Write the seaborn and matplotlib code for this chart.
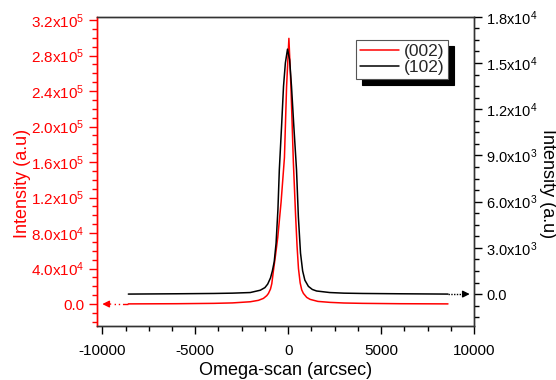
import numpy as np
import pandas as pd
import matplotlib
matplotlib.use("Agg")
import matplotlib.pyplot as plt
import seaborn as sns
from matplotlib.ticker import MultipleLocator, FixedLocator, FixedFormatter

# ---- data ----
x_002 = [-8600, -6000, -4000, -3000, -2040, -1600, -1330, -1150, -1060, -950, -880, -790,
         -680, -560, -380, -200, -85, 40, 150, 280, 400, 480, 555, 645, 730, 820,
         1000, 1180, 1600, 2260, 3000, 4000, 6000, 8600]
y_002 = [200, 400, 800, 1300, 2600, 4200, 6400, 9500, 12000, 17000, 23000, 38000,
         55000, 75000, 115000, 165000, 244800, 299400, 244800, 160000, 100000, 65000, 40000, 24000, 16000, 12000,
         7500, 5300, 3000, 1900, 1200, 800, 400, 200]

x_102 = [-8600, -6000, -4000, -3000, -2040, -1500, -1250, -1100, -950, -850, -750, -650,
         -550, -475, -350, -250, -150, -35, 80, 180, 300, 450, 550, 665, 780, 900,
         1090, 1300, 1530, 2240, 3000, 4000, 6000, 8600]
y_102 = [0, 20, 40, 60, 100, 250, 420, 650, 1050, 1500, 2100, 3300,
         5500, 8070, 11000, 13480, 15000, 15900, 15200, 13480, 11000, 8070, 5000, 2660, 1500, 900,
         500, 300, 200, 100, 60, 40, 20, 0]

series_labels = ["(002)", "(102)"]
x_ticks = [-10000, -5000, 0, 5000, 10000]
left_ticks = [0, 40000, 80000, 120000, 160000, 200000, 240000, 280000, 320000]
left_labels = ["0.0", "4.0x10$^{4}$", "8.0x10$^{4}$", "1.2x10$^{5}$", "1.6x10$^{5}$",
               "2.0x10$^{5}$", "2.4x10$^{5}$", "2.8x10$^{5}$", "3.2x10$^{5}$"]
right_ticks = [0, 3000, 6000, 9000, 12000, 15000, 18000]
right_labels = ["0.0", "3.0x10$^{3}$", "6.0x10$^{3}$", "9.0x10$^{3}$",
                "1.2x10$^{4}$", "1.5x10$^{4}$", "1.8x10$^{4}$"]

# ---- style ----
sns.set_theme(style="ticks")
plt.rcParams["font.family"] = ["Liberation Sans", "DejaVu Sans"]
plt.rcParams["mathtext.fontset"] = "custom"
plt.rcParams["mathtext.rm"] = "Liberation Sans"
plt.rcParams["mathtext.it"] = "Liberation Sans:italic"
plt.rcParams["mathtext.bf"] = "Liberation Sans:bold"
plt.rcParams["axes.unicode_minus"] = False

RED = "#ff0000"
BLACK = "#000000"

fig = plt.figure(figsize=(5.56, 3.80), dpi=100)
ax = fig.add_axes([0.174, 0.1426, 0.6785, 0.8132])
ax2 = ax.twinx()

df1 = pd.DataFrame({"x": x_002, "y": y_002})
df2 = pd.DataFrame({"x": x_102, "y": y_102})
sns.lineplot(data=df1, x="x", y="y", ax=ax, color=RED, lw=1.1, label=series_labels[0], legend=False)
sns.lineplot(data=df2, x="x", y="y", ax=ax2, color=BLACK, lw=1.1, label=series_labels[1], legend=False)

xlim = (-10300, 10000)
ax.set_xlim(*xlim)
ax.set_ylim(-24500, 323700)
ax2.set_ylim(-2060, 18000)

# ticks
ax.xaxis.set_major_locator(FixedLocator(x_ticks))
ax.xaxis.set_minor_locator(MultipleLocator(1250))
ax.yaxis.set_major_locator(FixedLocator(left_ticks))
ax.yaxis.set_major_formatter(FixedFormatter(left_labels))
ax.yaxis.set_minor_locator(MultipleLocator(10000))
ax2.yaxis.set_major_locator(FixedLocator(right_ticks))
ax2.yaxis.set_major_formatter(FixedFormatter(right_labels))
ax2.yaxis.set_minor_locator(MultipleLocator(750))

ax.tick_params(axis="x", which="major", length=6, width=1, direction="out", labelsize=11, colors=BLACK, pad=7)
ax.tick_params(axis="x", which="minor", length=3.5, width=1, direction="out", colors=BLACK)
ax.tick_params(axis="y", which="major", length=6, width=1, direction="out", labelsize=11, colors=RED, pad=3)
ax.tick_params(axis="y", which="minor", length=3.5, width=1, direction="out", colors=RED)
ax2.tick_params(axis="y", which="major", length=6, width=1, direction="out", labelsize=10.5, colors=BLACK, pad=3)
ax2.tick_params(axis="y", which="minor", length=3.5, width=1, direction="out", colors=BLACK)

for a in (ax, ax2):
    for s in a.spines.values():
        s.set_linewidth(1.0)
        s.set_color("#333333")
ax2.spines["left"].set_color(RED)
ax.spines["left"].set_color(RED)

ax.set_xlabel("Omega-scan (arcsec)", fontsize=13, color=BLACK, labelpad=3)
ax.set_ylabel("Intensity (a.u)", fontsize=13, color=RED, va="center", ha="center")
ax.yaxis.set_label_coords(-0.198, 0.46)
ax2.set_ylabel("Intensity (a.u)", fontsize=13, color=BLACK, rotation=270, va="center", ha="center")
ax2.yaxis.set_label_coords(1.196, 0.46)

# axis-indicator arrows
ax.plot([x_002[0], xlim[0] + 900], [0, 0], color=RED, lw=1.0, ls=(0, (4, 2, 1, 2, 1, 2)))
ax.annotate("", xy=(xlim[0] + 150, 0), xytext=(xlim[0] + 900, 0),
            arrowprops=dict(arrowstyle="-|>", color=RED, lw=1.0, mutation_scale=10))
ax2.plot([x_102[-1], xlim[1] - 700], [0, 0], color=BLACK, lw=1.0, ls=(0, (1, 1)))
ax2.annotate("", xy=(xlim[1] - 80, 0), xytext=(xlim[1] - 700, 0),
             arrowprops=dict(arrowstyle="-|>", color=BLACK, lw=1.0, mutation_scale=10))

# legend
h1, l1 = ax.get_legend_handles_labels()
h2, l2 = ax2.get_legend_handles_labels()
leg = ax2.legend(h1 + h2, l1 + l2, loc="upper right", bbox_to_anchor=(0.931, 0.925),
                 fontsize=12.5, frameon=True, fancybox=False, framealpha=1,
                 shadow={"ox": 4.5, "oy": -4.5, "color": "black", "alpha": 1},
                 handlelength=2.25, handletextpad=0.3, borderpad=0.2, labelspacing=0.1,
                 borderaxespad=0)
leg.get_frame().set_edgecolor("#555555")
leg.get_frame().set_linewidth(0.8)

fig.savefig("out.png", dpi=100)
